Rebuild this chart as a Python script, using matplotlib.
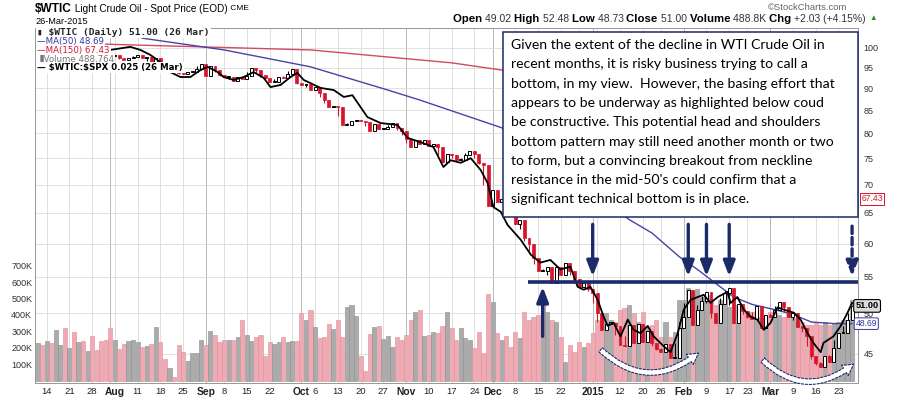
import numpy as np
import pandas as pd
import matplotlib
matplotlib.use('Agg')
import matplotlib.pyplot as plt
import matplotlib.transforms as mtransforms
from matplotlib.patches import Rectangle, FancyArrowPatch

plt.rcParams['font.family'] = ['Liberation Sans', 'DejaVu Sans']

# trading days shown on the chart
holidays = ['2014-09-01', '2014-11-27', '2014-12-25', '2015-01-01', '2015-01-19', '2015-02-16']
days = pd.bdate_range('2014-07-10', '2015-03-26')
days = days[~days.isin(pd.to_datetime(holidays))]

# daily closes ($WTIC)
close_jul = [102.9, 100.8, 100.9, 100.0, 101.2, 103.2, 103.1, 104.6, 102.4, 103.1, 102.1, 102.1,
             101.7, 101.0, 100.3, 98.2]
close_aug = [97.9, 98.3, 97.4, 96.9, 97.3, 97.7, 98.1, 97.4, 97.6, 95.6, 97.4, 96.4, 94.5, 96.1,
             94.0, 93.7, 93.4, 93.9, 93.9, 94.6, 96.0]
close_sep = [92.9, 95.5, 94.5, 93.3, 92.7, 92.8, 91.7, 92.8, 92.3, 92.9, 94.9, 94.4, 93.1, 92.4,
             91.5, 91.6, 92.8, 92.5, 93.5, 94.6, 91.2]
close_oct = [90.7, 91.0, 89.7, 90.3, 88.9, 87.3, 85.8, 85.8, 85.7, 81.8, 81.8, 82.7, 82.8, 82.7,
             82.5, 80.5, 82.1, 81.0, 81.0, 81.4, 82.2, 81.1, 80.5]
close_nov = [78.8, 77.2, 78.7, 77.9, 78.7, 77.4, 77.9, 77.2, 74.2, 75.8, 75.6, 74.6, 74.6, 75.6,
             76.5, 75.8, 74.1, 73.7, 66.2]
close_dec = [69.0, 66.9, 67.4, 66.8, 65.8, 63.1, 63.8, 60.9, 60.0, 57.8, 55.9, 55.9, 56.5, 54.1,
             56.5, 55.3, 57.1, 55.8, 54.7, 53.6, 54.1, 53.3]
close_jan = [52.7, 50.0, 47.9, 48.7, 48.8, 48.4, 46.1, 45.9, 48.5, 46.3, 48.7, 46.4, 47.8, 46.3,
             45.6, 45.2, 46.2, 44.5, 44.5, 48.2]
close_feb = [49.6, 53.1, 48.5, 50.5, 51.7, 52.9, 50.0, 48.8, 51.2, 52.8, 53.5, 48.8, 51.2, 50.3,
             49.5, 49.3, 51.0, 48.2, 49.8]
close_mar = [49.6, 50.5, 51.5, 50.8, 49.6, 50.0, 48.3, 48.2, 47.1, 44.8, 43.9, 43.5, 44.7, 44.0,
             45.7, 47.5, 47.5, 49.2, 51.0]
closes = np.array(close_jul + close_aug + close_sep + close_oct + close_nov + close_dec
                  + close_jan + close_feb + close_mar)

# daily volume in thousands
volume = np.array([
    230, 215, 240, 230, 308, 215, 318, 200, 298, 232, 240, 182, 270, 186, 240, 245,
    318, 250, 190, 222, 240, 250, 234, 205, 213, 225, 325, 236, 133, 74, 20, 215, 176, 119, 165, 165, 245,
    215, 303, 278, 236, 245, 250, 250, 267, 369, 275, 240, 263, 278, 150, 236, 222, 236, 263, 236, 240, 240,
    410, 369, 433, 325, 258, 267, 345, 312, 369, 263, 450, 460, 393, 150, 56, 281, 328, 332, 254, 270, 205,
    263, 245,
    278, 369, 415, 427, 270, 278, 298, 287, 332, 420, 318, 246, 318, 258, 250, 196, 298, 165, 525,
    480, 287, 250, 270, 205, 298, 258, 420, 369, 390, 400, 490, 420, 369, 358, 267, 115, 216, 176, 236,
    205, 227,
    287, 369, 400, 410, 369, 358, 430, 440, 460, 410, 358, 420, 328, 338, 369, 267, 358, 267, 298, 490,
    490, 564, 540, 555, 510, 520, 500, 460, 490, 530, 450, 358, 460, 450, 420, 420, 390, 380, 358,
    420, 410, 400, 390, 420, 380, 358, 358, 338, 338, 348, 338, 358, 338, 348, 358, 369, 369, 489])

# moving averages (day index, value)
ma50_idx = [23, 41, 60, 77, 84, 102, 116, 130, 135, 141, 145, 149, 153, 157, 162, 166, 170, 175, 179]
ma50_val = [102.6, 99.5, 95.2, 89.6, 87.3, 81.2, 72.5, 63.9, 61.7, 58.0, 56.1, 54.1, 52.2, 51.2,
            50.5, 49.9, 48.9, 48.7, 48.69]
ma150_idx = [15, 60, 91, 102, 130, 155, 179]
ma150_val = [101.0, 99.5, 96.2, 94.4, 86.0, 76.5, 67.43]

# $WTIC:$SPX ratio overlay (day index, value on price scale)
ratio_idx = [16, 20.4, 22.6, 24.8, 26.4, 27.7, 29.2, 31.4, 33.6, 35.8, 37.4, 39.6, 40.9, 43.1, 45.3,
             47.5, 49.7, 51.2, 53.4, 55.6, 57.1, 58.5, 62.2, 65.1, 67.3, 69.2, 72.5, 75.4, 79.1, 81.3,
             84.8, 87.0, 89.2, 90.8, 93.0, 95.2, 97.4, 98.9, 100.2, 101.8, 103.3, 106.2, 108.4, 110.5,
             112.7, 114.9, 117.1, 118.7, 120.0, 121.5, 123.1, 124.4, 125.3, 126.6, 128.1, 129.7, 131.0,
             132.5, 134.1, 135.4, 137.6, 139.1, 140.7, 142.0, 143.5, 145.1, 146.4, 147.9, 149.5, 151.6,
             152.3, 153.8, 155.2, 156.7, 158.2, 159.6, 161.1, 162.6, 164.0, 166.2, 167.7, 169.2, 170.5,
             172.1, 172.7, 174.9, 176.5, 178.0, 179]
ratio_val = [99.5, 100.3, 99.5, 98.2, 96.9, 95.7, 93.9, 92.7, 92.7, 94.4, 95.2, 93.9, 92.7, 92.0, 92.7,
             93.9, 92.5, 90.3, 90.8, 92.7, 93.7, 92.0, 90.1, 89.6, 88.0, 88.4, 83.5, 82.2, 81.8, 79.1,
             78.0, 77.2, 73.3, 74.6, 74.1, 75.0, 72.7, 70.3, 66.0, 65.2, 63.0, 60.6, 58.3, 57.1,
             57.5, 56.1, 56.5, 53.6, 53.2, 53.6, 51.8, 49.6, 48.4, 48.8, 47.1, 49.2, 47.9,
             47.5, 48.4, 47.1, 45.9, 45.2, 47.5, 50.5, 51.8, 52.2, 52.5, 51.4, 52.2, 52.9,
             51.4, 52.2, 50.5, 49.6, 49.2, 47.9, 48.8, 50.8, 50.5, 50.1, 49.2, 47.5, 46.3,
             45.2, 46.3, 47.1, 48.4, 50.1, 51.4]

tick_dates = ['2014-07-14', '2014-07-21', '2014-07-28', '2014-08-04', '2014-08-11', '2014-08-18',
              '2014-08-25', '2014-09-02', '2014-09-08', '2014-09-15', '2014-09-22', '2014-10-01',
              '2014-10-06', '2014-10-13', '2014-10-20', '2014-10-27', '2014-11-03', '2014-11-10',
              '2014-11-17', '2014-11-24', '2014-12-01', '2014-12-08', '2014-12-15', '2014-12-22',
              '2015-01-02', '2015-01-12', '2015-01-20', '2015-01-26', '2015-02-02', '2015-02-09',
              '2015-02-17', '2015-02-23', '2015-03-02', '2015-03-09', '2015-03-16', '2015-03-23']
tick_labels = ['14', '21', '28', 'Aug', '11', '18', '25', 'Sep', '8', '15', '22', 'Oct', '6', '13',
               '20', '27', 'Nov', '10', '17', '24', 'Dec', '8', '15', '22', '2015', '12', '20', '26',
               'Feb', '9', '17', '23', 'Mar', '9', '16', '23']
price_ticks = [45, 50, 55, 60, 65, 70, 75, 80, 85, 90, 95, 100]
vol_ticks = [100, 200, 300, 400, 500, 600, 700]

neckline = 54.3
down_arrow_days = ['2015-01-02', '2015-02-03', '2015-02-09', '2015-02-17']
up_arrow_day = '2014-12-16'
note = ("Given the extent of the decline in WTI Crude Oil in\n"
        "recent months, it is risky business trying to call a\n"
        "bottom, in my view.  However, the basing effort that\n"
        "appears to be underway as highlighted below coud\n"
        "be constructive. This potential head and shoulders\n"
        "bottom pattern may still need another month or two\n"
        "to form, but a convincing breakout from neckline\n"
        "resistance in the mid-50's could confirm that a\n"
        "significant technical bottom is in place.")

red = '#d7142a'
navy = '#1b2a68'
W, H = 900, 398

fig = plt.figure(figsize=(9, 3.98), dpi=100)
ax = fig.add_axes([35 / W, 1 - 383 / H, 823 / W, 355 / H])
axp = ax.twinx()

x = np.arange(len(days))
pos = {d: i for i, d in enumerate(days)}
xi = lambda d: pos[pd.Timestamp(d)]

# volume
prev = np.r_[closes[0], closes[:-1]]
up = closes >= prev
vcol = np.where(up, '#ababab', '#efaab3')
ecol = np.where(up, '#8c8c8c', '#dc8e99')
ax.bar(x, volume * 1000, width=0.9, color=vcol, edgecolor=ecol, linewidth=0.4, zorder=2)
ax.set_ylim(-15e3, 2149e3)
ax.set_xlim(-0.55, 180.3)

# grid: weekly verticals, price horizontals
week_start = [i for i in range(1, len(days)) if days[i].dayofweek < days[i - 1].dayofweek]
month_start = [i for i in range(1, len(days)) if days[i].month != days[i - 1].month]
for i in week_start:
    ax.axvline(i, color='#dadada', lw=0.6, zorder=0)
for i in month_start:
    ax.axvline(i, color='#b8b8b8', lw=0.7, zorder=0)
axp.set_yscale('log')
axp.set_ylim(41.7, 105.36)
blend = mtransforms.blended_transform_factory(ax.transAxes, axp.transData)
for p in price_ticks:
    ax.plot([0, 1], [p, p], transform=blend, color='#dcdcdc', lw=0.6, zorder=0)

# candles
nxt = np.r_[closes[1:], closes[-1]]
body_lo = np.minimum(prev, closes)
body_hi = np.maximum(prev, closes)
mid = (closes + nxt) / 2
wick_lo = np.minimum(body_lo, mid)
wick_hi = np.maximum(body_hi, mid)
height = np.maximum(body_hi - body_lo, 0.15)
axp.vlines(x[~up], wick_lo[~up], wick_hi[~up], color=red, lw=0.8, zorder=3)
axp.vlines(x[up], wick_lo[up], wick_hi[up], color='black', lw=0.8, zorder=3)
axp.bar(x[~up], height[~up], bottom=body_lo[~up], width=0.65, color=red, edgecolor=red, lw=0.5, zorder=4)
axp.bar(x[up], height[up], bottom=body_lo[up], width=0.65, color='white', edgecolor='black', lw=0.7, zorder=4)

axp.plot(ma150_idx, ma150_val, color='#d24a62', lw=1.0, zorder=3)
axp.plot(ma50_idx, ma50_val, color='#4545a5', lw=1.0, zorder=3)
axp.plot(ratio_idx, ratio_val, color='black', lw=1.3, zorder=5)

# axes styling
axp.set_yticks(price_ticks)
axp.set_yticklabels([str(p) for p in price_ticks])
axp.yaxis.set_minor_locator(matplotlib.ticker.NullLocator())
axp.tick_params(axis='y', length=0, pad=4, labelsize=6.5, labelcolor='#333333')
ax.set_yticks([v * 1000 for v in vol_ticks])
ax.set_yticklabels([f'{v}K' for v in vol_ticks])
ax.tick_params(axis='y', length=0, pad=2, labelsize=6.5, labelcolor='#333333')
ax.set_xticks([xi(d) for d in tick_dates])
ax.set_xticklabels(tick_labels)
ax.tick_params(axis='x', length=0, pad=3, labelsize=6.8, labelcolor='#222222')
for lab in ax.get_xticklabels():
    if not lab.get_text().isdigit() or lab.get_text() == '2015':
        lab.set_fontweight('bold')
        lab.set_fontsize(7.4)
for a in (ax, axp):
    for s in a.spines.values():
        s.set_color('#9a9a9a')
        s.set_linewidth(0.7)

# right edge value tags
edge = mtransforms.blended_transform_factory(axp.transAxes, axp.transData)
axp.text(1.004, 67.43, '67.43', transform=edge, fontsize=6.2, color=red, va='center', ha='left',
         bbox=dict(boxstyle='square,pad=0.15', fc='white', ec=red, lw=0.7), zorder=8, clip_on=False)
axp.text(0.997, 51.0, '51.00', transform=edge, fontsize=6.6, color='black', fontweight='bold',
         va='center', ha='left', bbox=dict(boxstyle='round,pad=0.2', fc='#dcdcdc', ec='black', lw=0.8),
         zorder=8, clip_on=False)
axp.text(0.997, 48.69, '48.69', transform=edge, fontsize=6.2, color='#3535a0', va='center', ha='left',
         bbox=dict(boxstyle='round,pad=0.15', fc='white', ec='#3535a0', lw=0.7), zorder=8, clip_on=False)

# neckline and arrows
axp.plot([107.7, 180.3], [neckline, neckline], color=navy, lw=2.6, zorder=9, clip_on=False,
         solid_capstyle='butt')
for d in down_arrow_days:
    axp.annotate('', xy=(xi(d), 55.1), xytext=(xi(d), 63.1),
                 arrowprops=dict(arrowstyle='-|>,head_length=0.9,head_width=0.35', lw=2.4, color=navy,
                                 shrinkA=0, shrinkB=0), zorder=9)
axp.annotate('', xy=(179, 55.1), xytext=(179, 62.8),
             arrowprops=dict(arrowstyle='-|>,head_length=0.9,head_width=0.35', lw=2.4, color=navy,
                             linestyle=(0, (2.2, 1.2)), shrinkA=0, shrinkB=0), zorder=9)
axp.annotate('', xy=(xi(up_arrow_day), 53.6), xytext=(xi(up_arrow_day), 47.1),
             arrowprops=dict(arrowstyle='-|>,head_length=0.9,head_width=0.35', lw=2.4, color=navy,
                             shrinkA=0, shrinkB=0), zorder=9)
for a, b in [((123.3, 45.7), (145.7, 45.3)), ((158.9, 44.5), (179.8, 44.0))]:
    arc = FancyArrowPatch(a, b, connectionstyle='arc3,rad=0.45',
                          arrowstyle='simple,head_length=0.7,head_width=0.8,tail_width=0.35',
                          mutation_scale=11, fc='white', ec=navy, lw=0.8, ls=(0, (2, 1.5)),
                          zorder=9, clip_on=False)
    axp.add_patch(arc)

# note box
fig.add_artist(Rectangle((503 / W, 1 - 217 / H), 355 / W, 185 / H, transform=fig.transFigure,
                         fc='white', ec=navy, lw=1.1, zorder=5))
fig.text(511 / W, 1 - 39 / H, note, va='top', ha='left', fontsize=10.1, family='Lato',
         linespacing=1.73, color='black', zorder=6)

# legend rows
lg = dict(fontsize=6.2, va='center', ha='left', zorder=7,
          bbox=dict(boxstyle='square,pad=0.12', fc='white', ec='none'))
fig.text(37 / W, 1 - 32.3 / H, '\u25AE \\$WTIC (Daily) 51.00 (26 Mar)', color='#222222',
         family='DejaVu Sans Mono', fontweight='bold', **{**lg, 'fontsize': 6.8})
fig.text(37 / W, 1 - 41.7 / H, '\u2014MA(50) 48.69', color='#3535a0', family='DejaVu Sans', **lg)
fig.text(37 / W, 1 - 51 / H, '\u2014MA(150) 67.43', color=red, family='DejaVu Sans', **lg)
fig.text(37 / W, 1 - 59.5 / H, '\u2590Volume 488,764', color='#777777', family='DejaVu Sans', **lg)
fig.text(37 / W, 1 - 67.5 / H, '\u2014 \\$WTIC:\\$SPX 0.025 (26 Mar)', color='black', family='DejaVu Sans',
         fontweight='bold', **lg)

# header
renderer = fig.canvas.get_renderer()


def run(x0, y0, parts):
    for s, kw in parts:
        t = fig.text(x0 / W, 1 - y0 / H, s, va='center', ha='left', **kw)
        x0 += t.get_window_extent(renderer=renderer).width


run(35, 9, [('\\$WTIC', dict(fontsize=8.6, fontweight='bold')),
            (' Light Crude Oil - Spot Price (EOD)', dict(fontsize=7.2)),
            (' CME', dict(fontsize=6.0))])
fig.text(35 / W, 1 - 21 / H, '26-Mar-2015', fontsize=6.6, va='center', ha='left')
fig.text(847 / W, 1 - 8 / H, '\u00a9StockCharts.com', fontsize=6.8, color='#666666', va='center', ha='right')
b = dict(fontsize=8.2, fontweight='bold')
n = dict(fontsize=7.5, color='#333333')
run(453, 19, [('Open ', b), ('49.02 ', n), ('High ', b), ('52.48 ', n), ('Low ', b), ('48.73 ', n),
              ('Close ', b), ('51.00 ', n), ('Volume ', b), ('488.8K ', n), ('Chg ', b),
              ('+2.03 (+4.15%) ', n), ('\u25B2', dict(fontsize=5.5, color='#2a8a2a'))])

fig.savefig('out.png', dpi=100)
